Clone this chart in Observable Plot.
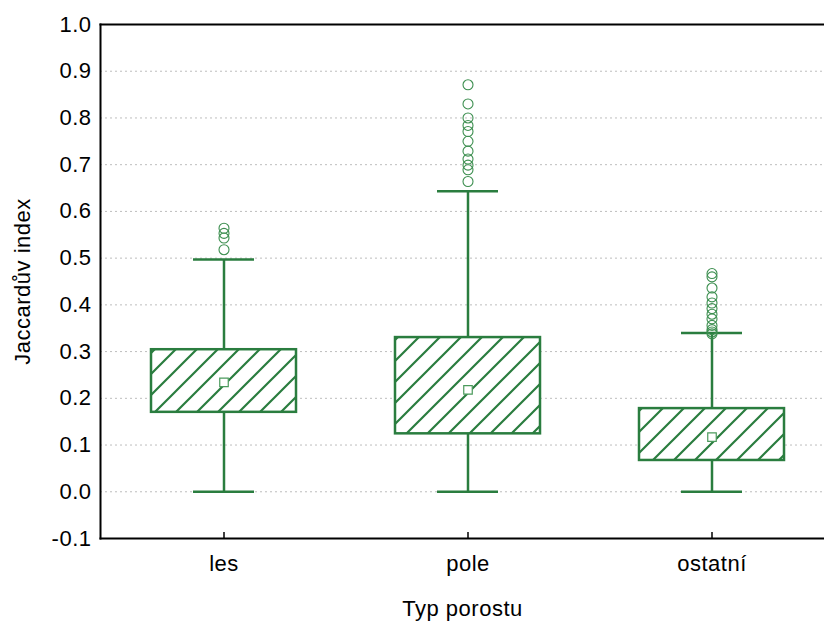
<!DOCTYPE html>
<html>
<head>
<meta charset="utf-8">
<script src="https://cdn.jsdelivr.net/npm/d3@7"></script>
<script src="https://cdn.jsdelivr.net/npm/@observablehq/plot@0.6"></script>
<style>
  body { margin: 0; background: #fff; }
  #chart svg { display: block; }
  #chart svg text { letter-spacing: 0.5px; }
</style>
</head>
<body>
<div id="chart"></div>
<script>
const categories = ["les", "pole", "ostatní"];
const q1 = [0.170, 0.124, 0.067];
const q3 = [0.304, 0.330, 0.178];
const means = [0.234, 0.218, 0.117];
const whiskerLow = [0.0, 0.0, 0.0];
const whiskerHigh = [0.497, 0.643, 0.340];
const outliersLes = [0.518, 0.543, 0.553, 0.564];
const outliersPole = [0.664, 0.689, 0.699, 0.712, 0.729, 0.750, 0.771, 0.784, 0.800, 0.830, 0.871];
const outliersOstatni = [0.338, 0.342, 0.347, 0.356, 0.370, 0.380, 0.392, 0.404, 0.417, 0.436, 0.460, 0.467];
const yTicks = [-0.1, 0.0, 0.1, 0.2, 0.3, 0.4, 0.5, 0.6, 0.7, 0.8, 0.9, 1.0];
const gridTicks = [0.0, 0.1, 0.2, 0.3, 0.4, 0.5, 0.6, 0.7, 0.8, 0.9];

const boxes = categories.map((c, i) => ({
  cat: c, q1: q1[i], q3: q3[i], mean: means[i], lo: whiskerLow[i], hi: whiskerHigh[i]
}));
const outliers = [
  ...outliersLes.map(v => ({cat: "les", v})),
  ...outliersPole.map(v => ({cat: "pole", v})),
  ...outliersOstatni.map(v => ({cat: "ostatní", v}))
];

const green = "#2a7d3f";
const font = "'Liberation Sans', Arial, sans-serif";
const fs = 22;

const chart = Plot.plot({
  width: 824,
  height: 623,
  marginLeft: 100,
  marginRight: 0,
  marginTop: 24,
  marginBottom: 85,
  style: {fontFamily: font, fontSize: fs + "px", color: "#000", background: "#fff"},
  x: {type: "band", domain: categories, range: [150, 786], paddingInner: 0.404, paddingOuter: 0},
  y: {domain: [-0.1, 1.0]},
  marks: [
    Plot.ruleY(gridTicks, {stroke: "#bdbdbd", strokeWidth: 1, strokeDasharray: "2,3"}),
    Plot.ruleX(boxes, {x: "cat", y1: "lo", y2: "q1", stroke: green, strokeWidth: 2.5}),
    Plot.ruleX(boxes, {x: "cat", y1: "q3", y2: "hi", stroke: green, strokeWidth: 2.5}),
    Plot.tickY(boxes, {x: "cat", y: "lo", stroke: green, strokeWidth: 2.5, insetLeft: 42, insetRight: 42}),
    Plot.tickY(boxes, {x: "cat", y: "hi", stroke: green, strokeWidth: 2.5, insetLeft: 42, insetRight: 42}),
    Plot.barY(boxes, {x: "cat", y1: "q1", y2: "q3", fill: "url(#hatch)", stroke: green, strokeWidth: 2.5}),
    Plot.dot(boxes, {x: "cat", y: "mean", symbol: "square", r: 4.8, fill: "#fff", stroke: "#4b9a5c", strokeWidth: 1.2}),
    Plot.dot(outliers, {x: "cat", y: "v", r: 5, fill: "none", stroke: "#3d8f50", strokeWidth: 1.1}),
    Plot.tickX(categories, {x: d => d, stroke: "#000", strokeWidth: 1.5, insetTop: 508}),
    Plot.frame({anchor: "left", stroke: "#000", strokeWidth: 2}),
    Plot.frame({anchor: "top", stroke: "#000", strokeWidth: 2}),
    Plot.frame({anchor: "bottom", stroke: "#000", strokeWidth: 2}),
    Plot.axisY({ticks: yTicks, tickFormat: d => d.toFixed(1), tickSize: 0, tickPadding: 9, label: null, fontSize: fs}),
    Plot.axisX({tickSize: 0, tickPadding: 17, label: null, fontSize: fs}),
    Plot.text(["Jaccardův index"], {text: d => d, frameAnchor: "left", textAnchor: "middle", lineAnchor: "middle", dx: -78, rotate: -90, fontSize: fs}),
    Plot.text(["Typ porostu"], {text: d => d, frameAnchor: "bottom", textAnchor: "middle", lineAnchor: "middle", dy: 70, fontSize: fs})
  ]
});

const svgNS = "http://www.w3.org/2000/svg";
const defs = document.createElementNS(svgNS, "defs");
defs.innerHTML = `<pattern id="hatch" patternUnits="userSpaceOnUse" width="21" height="21">
  <rect width="21" height="21" fill="#fff"/>
  <path d="M-5,26 L26,-5 M-5,5 L5,-5 M16,26 L26,16" stroke="${green}" stroke-width="2.2"/>
</pattern>`;
chart.insertBefore(defs, chart.firstChild);
document.getElementById("chart").appendChild(chart);
</script>
</body>
</html>
